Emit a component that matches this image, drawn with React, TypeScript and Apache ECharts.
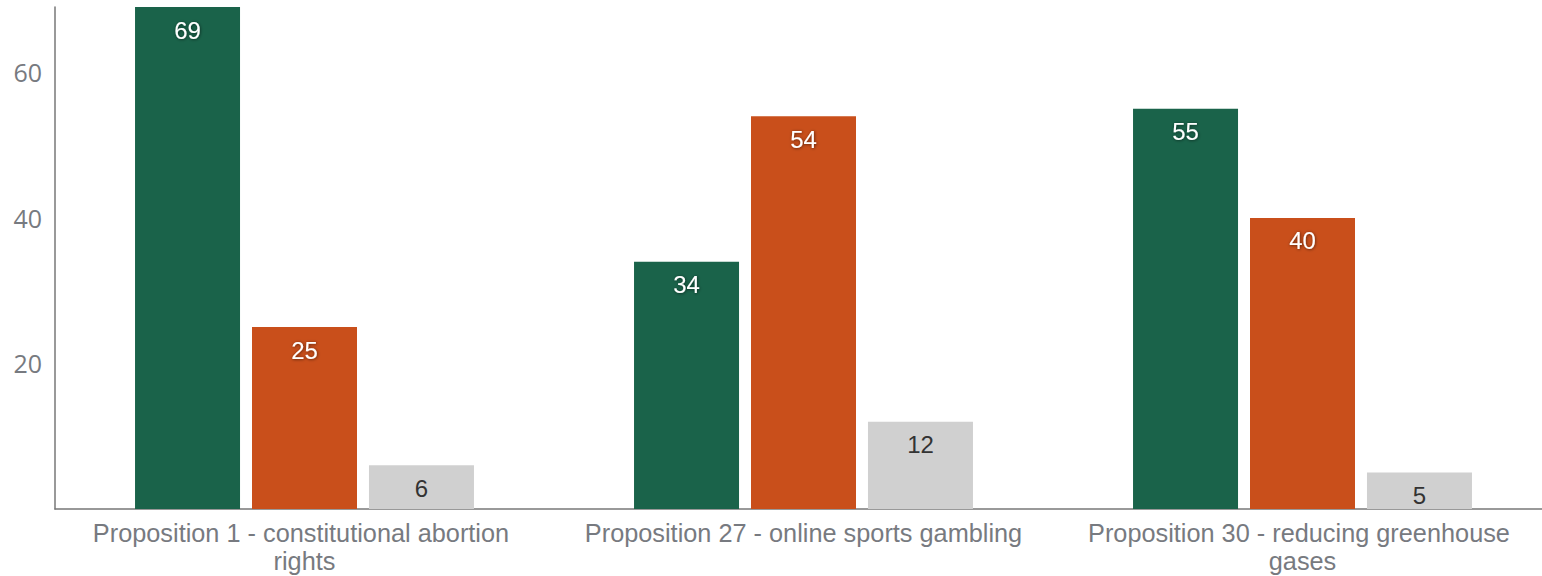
import React, { useEffect, useRef } from "react";
import * as echarts from "echarts";

const categories = [
  "Proposition 1 - constitutional abortion rights",
  "Proposition 27 - online sports gambling",
  "Proposition 30 - reducing greenhouse gases",
];
const yesValues = [69, 34, 55];
const noValues = [25, 54, 40];
const undecidedValues = [6, 12, 5];

export default function App() {
  const ref = useRef<HTMLDivElement>(null);
  useEffect(() => {
    if (!ref.current) return;
    const chart = echarts.init(ref.current, null, { renderer: "svg" });
    const font = "'Liberation Sans', Arial, Helvetica, sans-serif";
    const whiteLabel = {
      show: true,
      position: "insideTop",
      distance: 11,
      color: "#ffffff",
      fontSize: 24,
      fontFamily: font,
      textShadowColor: "rgba(0,0,0,0.6)",
      textShadowBlur: 3,
      textShadowOffsetX: 0.5,
      textShadowOffsetY: 0.5,
    };
    chart.setOption({
      animation: false,
      grid: { left: 55, right: 0, top: 7, bottom: 67, containLabel: false },
      xAxis: {
        type: "category",
        data: categories,
        axisLine: { lineStyle: { color: "#777777", width: 1.5 } },
        axisTick: { show: false },
        axisLabel: {
          color: "#777a80",
          fontSize: 25.3,
          fontFamily: font,
          width: 460,
          overflow: "break",
          lineHeight: 28,
          margin: 10,
          interval: 0,
        },
      },
      yAxis: {
        type: "value",
        min: 0,
        max: 69,
        interval: 20,
        splitLine: { show: false },
        axisLine: { show: true, lineStyle: { color: "#777777", width: 1.5 } },
        axisTick: { show: false },
        axisLabel: {
          color: "#777a80",
          fontSize: 25,
          fontFamily: "'Open Sans', 'Liberation Sans', sans-serif",
          margin: 13,
          showMinLabel: false,
          formatter: (v: number) => (v % 20 === 0 && v !== 0 ? String(v) : ""),
        },
      },
      series: [
        {
          name: "Yes",
          type: "bar",
          data: yesValues,
          barWidth: 105,
          barGap: "11.4%",
          itemStyle: { color: "#1a634a" },
          label: whiteLabel,
        },
        {
          name: "No",
          type: "bar",
          data: noValues,
          barWidth: 105,
          itemStyle: { color: "#c94f1b" },
          label: whiteLabel,
        },
        {
          name: "Undecided",
          type: "bar",
          data: undecidedValues,
          barWidth: 105,
          itemStyle: { color: "#d0d0d0" },
          label: {
            show: true,
            position: "insideTop",
            distance: 11,
            color: "#333333",
            fontSize: 24,
            fontFamily: font,
          },
        },
      ],
    });
    return () => chart.dispose();
  }, []);
  return (
    <div
      style={{
        position: "absolute",
        left: 0,
        top: 0,
        width: "1542px",
        height: "576px",
        overflow: "hidden",
      }}
    >
      <div ref={ref} style={{ width: "1552px", height: "576px" }} />
    </div>
  );
}
